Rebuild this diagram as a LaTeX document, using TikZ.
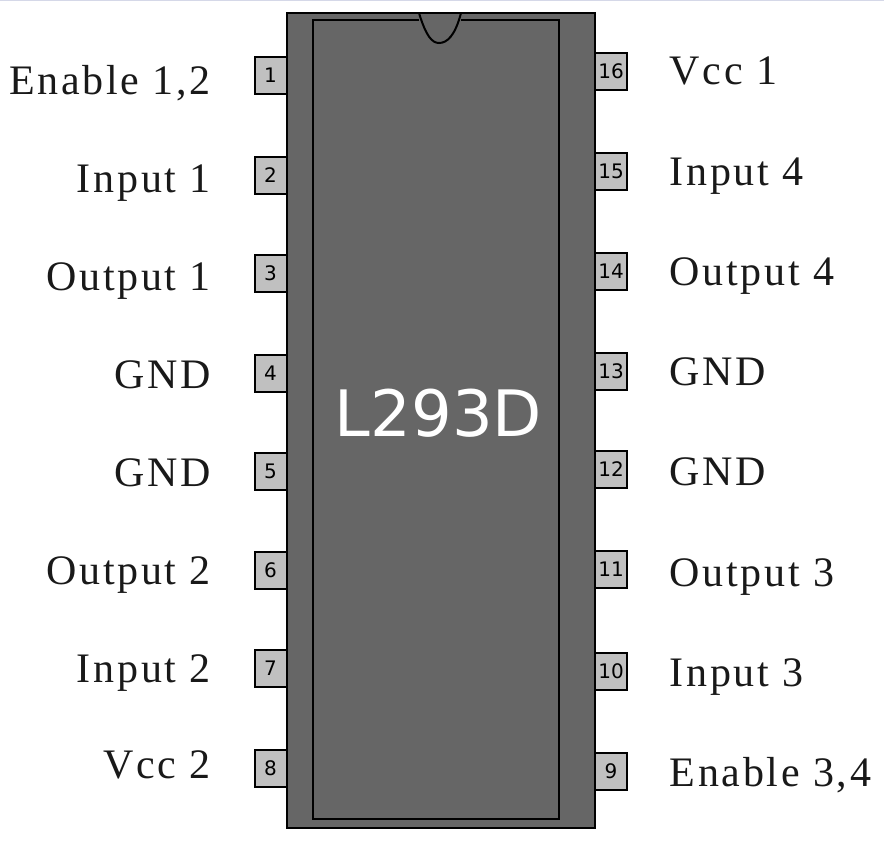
\documentclass[tikz,border=0pt]{standalone}
\usepackage{fontspec}
\setmainfont{Liberation Serif}
\newfontfamily\labelfont[LetterSpace=6.5]{Liberation Serif}
\newfontfamily\chipfont{DejaVu Sans}
\definecolor{chipgray}{HTML}{666666}
\definecolor{pingray}{HTML}{C0C0C0}
\definecolor{edgeline}{HTML}{D5D8E8}
\tikzset{
  chipline/.style={draw=black,line width=2pt},
  pinbox/.style={chipline,fill=pingray,minimum width=32pt,minimum height=37pt,inner sep=0pt,font=\chipfont\fontsize{20}{20}\selectfont},
  leftlabel/.style={anchor=base east,inner sep=0pt,text=black!90,font=\labelfont\fontsize{42}{42}\selectfont},
  rightlabel/.style={anchor=base west,inner sep=0pt,text=black!90,font=\labelfont\fontsize{42}{42}\selectfont},
  chipname/.style={inner sep=0pt,text=white,font=\chipfont\fontsize{64}{64}\selectfont}
}
\begin{document}
\begin{tikzpicture}[x=1pt,y=-1pt]
\useasboundingbox (0,0) rectangle (884,846);
\fill[white] (0,0) rectangle (884,846);
\fill[edgeline] (0,0) rectangle (884,1.2);
% pins, left
\foreach \n/\y in {1/75,2/175,3/273,4/373,5/471,6/570,7/668,8/768}
  \node[pinbox] (pin\n) at (270.5,\y) {\n};
% pins, right
\foreach \n/\y in {16/71,15/171,14/271,13/371,12/469,11/569,10/671,9/771}
  \node[pinbox] (pin\n) at (611,\y) {\n};
% body
\draw[chipline,fill=chipgray] (287,13) rectangle (595,828);
\draw[chipline] (419,20) -- (313,20) -- (313,819) -- (559,819) -- (559,20) -- (461,20);
\draw[chipline] (419,13) .. controls (426,36) and (432,43) .. (439,43) .. controls (447,43) and (455,36) .. (461,13);
\node[chipname] (chip) at (438.5,413) {L293D};
% labels, left
\foreach \t/\y/\k in {Enable 1{,}2/94/a,Input 1/192/b,Output 1/290/c,GND/388/d,GND/486/e,Output 2/584/f,Input 2/682/g,Vcc 2/778/h}
  \node[leftlabel] (l\k) at (211,\y) {\t};
% labels, right
\foreach \t/\y/\k in {Vcc 1/84/a,Input 4/185/b,Output 4/285/c,GND/385/d,GND/485/e,Output 3/586/f,Input 3/686/g,Enable 3{,}4/786/h}
  \node[rightlabel] (r\k) at (669.5,\y) {\t};
\end{tikzpicture}
\end{document}
